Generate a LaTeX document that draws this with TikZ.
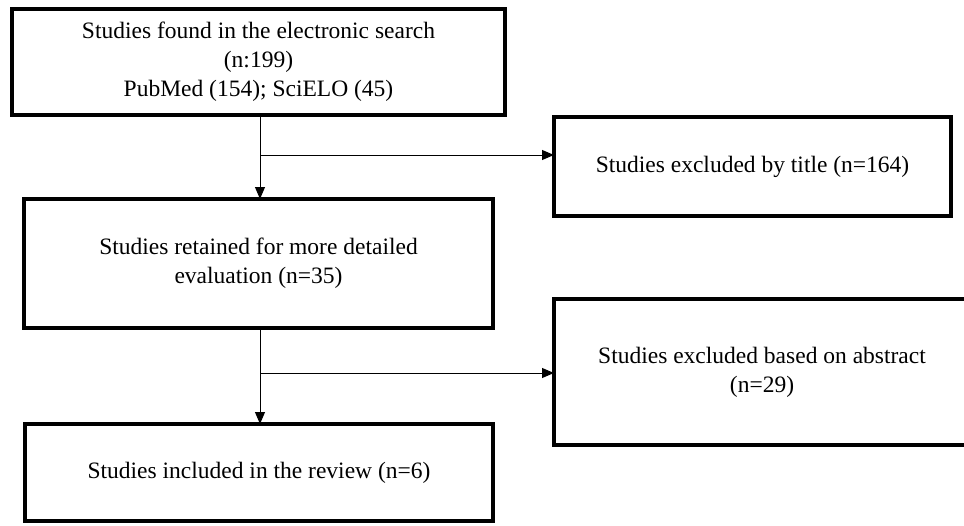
\documentclass[tikz,border=0pt]{standalone}
\usepackage{fontspec}
\setmainfont{Liberation Serif}
\usetikzlibrary{arrows.meta}
\begin{document}
\begin{tikzpicture}[x=1pt,y=-1pt,
  boxnode/.style={draw=black, line width=4.5pt, rectangle, inner sep=0pt, outer sep=0pt,
    align=center, font=\fontsize{23.5}{29}\selectfont, text=black},
  conn/.style={draw=black, line width=1pt},
  arr/.style={conn, -{Triangle[length=12pt,width=10pt]}}]
\clip (0,0) rectangle (964,525);
\fill[white] (0,0) rectangle (964,525);
\node[boxnode, minimum width=493pt, minimum height=106pt] (b1) at (258.5,62)
  {Studies found in the electronic search\\(n:199)\\PubMed (154); SciELO (45)};
\node[boxnode, minimum width=397pt, minimum height=99pt] (b2) at (752.5,166.5)
  {Studies excluded by title (n=164)};
\node[boxnode, minimum width=469pt, minimum height=129pt] (b3) at (258.5,263.5)
  {Studies retained for more detailed\\evaluation (n=35)};
\node[boxnode, minimum width=416pt, minimum height=146pt] (b4) at (762,372)
  {Studies excluded based on abstract\\(n=29)};
\node[boxnode, minimum width=468pt, minimum height=97pt] (b5) at (259,472.5)
  {Studies included in the review (n=6)};
\coordinate (j1) at (260,155);
\coordinate (j2) at (260,373);
\draw[arr] (b1.south -| j1) -- (b3.north -| j1);
\draw[arr] (j1) -- (b2.west |- j1);
\draw[arr] (b3.south -| j2) -- (b5.north -| j2);
\draw[arr] (j2) -- (b4.west |- j2);
\end{tikzpicture}
\end{document}
